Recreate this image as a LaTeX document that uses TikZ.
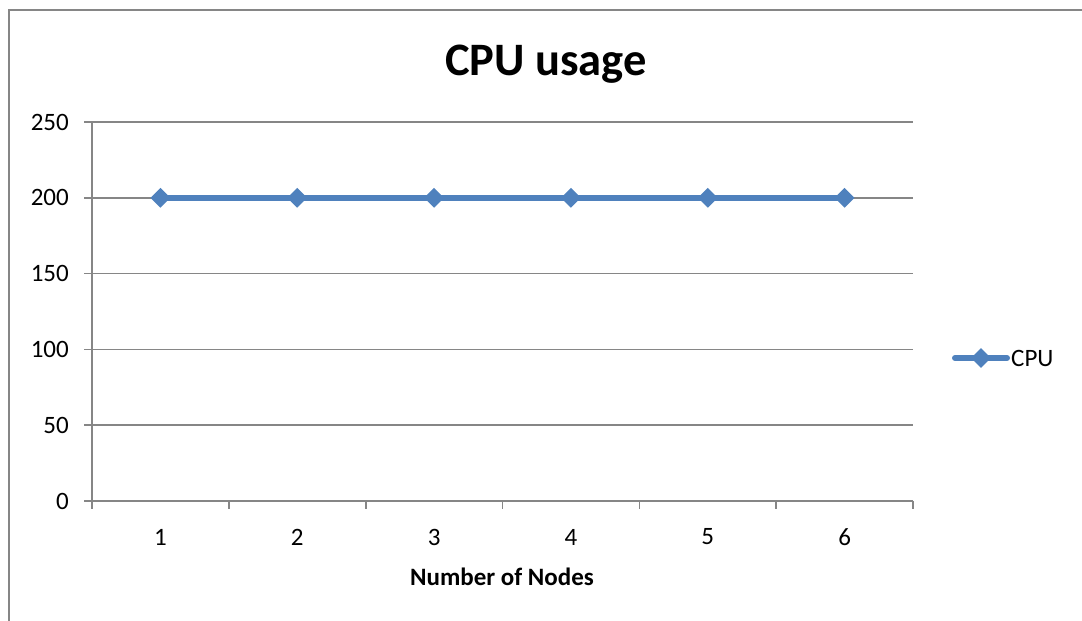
\documentclass[tikz,border=0pt]{standalone}
\usepackage{fontspec}
\setmainfont{Carlito}
\usetikzlibrary{shapes.geometric}

\definecolor{serieblue}{RGB}{79,129,189}
\definecolor{gridgray}{RGB}{134,134,134}

\tikzset{
  grid line/.style={draw=gridgray, line width=1.6pt},
  tick label/.style={inner sep=0pt, font=\fontsize{25}{29}\selectfont},
  marker/.style={diamond, fill=serieblue, inner sep=0pt, minimum size=20pt},
  serie/.style={serieblue, line width=6pt}
}

\begin{document}
\begin{tikzpicture}[x=1pt,y=-1pt]
\useasboundingbox (0,0) rectangle (1082,621);
\clip (0,0) rectangle (1082,621);
\draw[gridgray, line width=1.4pt] (9,10) rectangle (1100,640); % chart frame
\node (title) at (546,64) {\fontsize{46.5}{54}\selectfont\bfseries CPU usage};
\draw[grid line] (84,122) -- (913,122); % horizontal grid lines
\draw[grid line] (84,197.8) -- (913,197.8);
\draw[grid line] (84,273.6) -- (913,273.6);
\draw[grid line] (84,349.4) -- (913,349.4);
\draw[grid line] (84,425.2) -- (913,425.2);
\draw[grid line] (84,501) -- (913,501); % x axis
\draw[grid line] (92,122) -- (92,509); % y axis
\draw[grid line] (228.8,501) -- (228.8,509); % ticks below x axis
\draw[grid line] (365.7,501) -- (365.7,509);
\draw[grid line] (502.5,501) -- (502.5,509);
\draw[grid line] (639.3,501) -- (639.3,509);
\draw[grid line] (776.2,501) -- (776.2,509);
\draw[grid line] (913,501) -- (913,509);
\node[tick label, anchor=east] (y250) at (69,122) {250};
\node[tick label, anchor=east] (y200) at (69,197.8) {200};
\node[tick label, anchor=east] (y150) at (69,273.6) {150};
\node[tick label, anchor=east] (y100) at (69,349.4) {100};
\node[tick label, anchor=east] (y50) at (69,425.2) {50};
\node[tick label, anchor=east] (y0) at (69,501) {0};
\node[tick label] (x1) at (160.4,537) {1};
\node[tick label] (x2) at (297.2,537) {2};
\node[tick label] (x3) at (434.1,537) {3};
\node[tick label] (x4) at (570.9,537) {4};
\node[tick label] (x5) at (707.8,537) {5};
\node[tick label] (x6) at (844.6,537) {6};
\node[tick label] (xtitle) at (502,577) {\bfseries Number of Nodes};
\coordinate (c1) at (160.4,197.8);
\coordinate (c2) at (297.2,197.8);
\coordinate (c3) at (434.1,197.8);
\coordinate (c4) at (570.9,197.8);
\coordinate (c5) at (707.8,197.8);
\coordinate (c6) at (844.6,197.8);
\draw[serie] (c1) -- (c2) -- (c3) -- (c4) -- (c5) -- (c6); % the CPU serie
\node[marker] (p1) at (c1) {};
\node[marker] (p2) at (c2) {};
\node[marker] (p3) at (c3) {};
\node[marker] (p4) at (c4) {};
\node[marker] (p5) at (c5) {};
\node[marker] (p6) at (c6) {};
\coordinate (legA) at (955,358);
\coordinate (legB) at (1007,358);
\draw[serie, line cap=round] (legA) -- (legB); % legend sample
\node[marker] (legP) at (981,358) {};
\node[tick label, anchor=west] (legT) at (1011,358) {CPU};
\end{tikzpicture}
\end{document}
